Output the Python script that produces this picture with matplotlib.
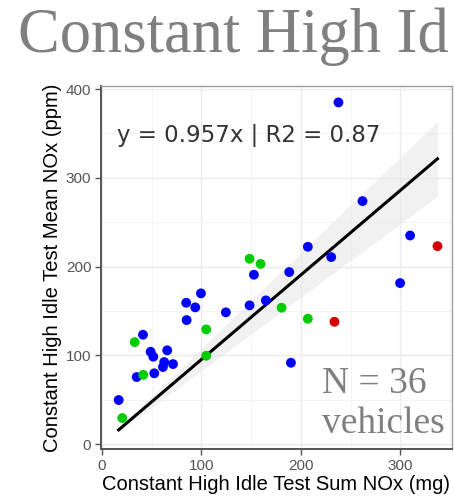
import numpy as np
import matplotlib
matplotlib.use("Agg")
import matplotlib.pyplot as plt

# sum NOx (mg) vs mean NOx (ppm), grouped by point colour
blue_x = [237.8, 262.0, 309.9, 207.0, 230.5, 152.8, 188.3, 299.8, 84.7, 93.8, 99.5, 85.1, 124.6,
          148.4, 164.8, 41.2, 48.9, 51.6, 65.6, 62.6, 71.4, 61.3, 190.0, 34.9, 52.6, 16.8]
blue_y = [385.0, 273.8, 235.0, 222.3, 210.7, 190.8, 193.8, 181.4, 159.2, 154.0, 169.8, 139.7, 148.4,
          156.3, 161.9, 123.2, 104.0, 98.4, 105.6, 92.4, 90.1, 86.8, 91.6, 75.5, 79.7, 49.6]
green_x = [148.4, 159.5, 180.6, 207.0, 104.8, 32.9, 104.8, 41.5, 20.4]
green_y = [208.8, 203.0, 153.6, 141.2, 129.2, 114.9, 99.5, 78.0, 29.3]
red_x = [337.4, 233.8]
red_y = [223.0, 137.8]

x_ticks = [0, 100, 200, 300]
y_ticks = [0, 100, 200, 300, 400]
eq_label = "y = 0.957x | R2 = 0.87"

x_all = np.array(blue_x + green_x + red_x)
y_all = np.array(blue_y + green_y + red_y)

# fit through the origin + 95% band
slope = np.sum(x_all * y_all) / np.sum(x_all ** 2)
resid = y_all - slope * x_all
se = np.sqrt(np.sum(resid ** 2) / (len(x_all) - 1) / np.sum(x_all ** 2))
xs = np.linspace(x_all.min(), x_all.max(), 100)
band = 2.03 * se * xs

fig = plt.figure(figsize=(4.54, 5.01), dpi=100)
ax = fig.add_axes([101 / 454, 1 - 449 / 501, 351 / 454, 363 / 501])

ax.set_xlim(-1, 352)
ax.set_ylim(-5.6, 403.5)

ax.set_xticks(x_ticks)
ax.set_yticks(y_ticks)
ax.set_xticks([50, 150, 250, 350], minor=True)
ax.set_yticks([50, 150, 250, 350], minor=True)
ax.grid(which="major", color="#ebebeb", lw=1.0)
ax.grid(which="minor", color="#f3f3f3", lw=0.6)
ax.set_axisbelow(True)
ax.tick_params(which="minor", length=0)
ax.tick_params(which="major", length=4, width=1, color="#555555", labelsize=11, labelcolor="#555555", pad=3)

ax.fill_between(xs, slope * xs - band, slope * xs + band, color="#e8e8e8", alpha=0.6, lw=0, zorder=2)
ax.plot(xs, slope * xs, color="black", lw=2.2, zorder=3)

ax.scatter(blue_x, blue_y, s=50, color="#0000ff", edgecolors="none", zorder=4)
ax.scatter(green_x, green_y, s=50, color="#00cc00", edgecolors="none", zorder=4)
ax.scatter(red_x, red_y, s=50, color="#d40000", edgecolors="none", zorder=4)

for side in ["top", "right"]:
    ax.spines[side].set_color("#a0a0a0")
    ax.spines[side].set_linewidth(1.0)
for side in ["left", "bottom"]:
    ax.spines[side].set_color("#555555")
    ax.spines[side].set_linewidth(1.4)

ax.text(0.047, 0.846, eq_label, transform=ax.transAxes, fontsize=16.5, color="#333333",
        family="DejaVu Sans")

ax.set_xlabel("Constant High Idle Test Sum NOx (mg)", fontsize=14.5, family="Liberation Sans", labelpad=2)
ax.set_ylabel("Constant High Idle Test Mean NOx (ppm)", fontsize=14.5, family="Liberation Sans", labelpad=3)
for lbl in ax.get_xticklabels() + ax.get_yticklabels():
    lbl.set_family("Liberation Sans")

fig.text(18 / 454, 1 - 52 / 501, "Constant High Id", fontsize=45, color="#7f7f7f",
         family="Liberation Serif", va="baseline")
fig.text(322 / 454, 1 - 393 / 501, "N = 36", fontsize=27, color="#7f7f7f",
         family="Liberation Serif", va="baseline")
fig.text(322 / 454, 1 - 433 / 501, "vehicles", fontsize=27, color="#7f7f7f",
         family="Liberation Serif", va="baseline")

fig.savefig("out.png", dpi=100)
